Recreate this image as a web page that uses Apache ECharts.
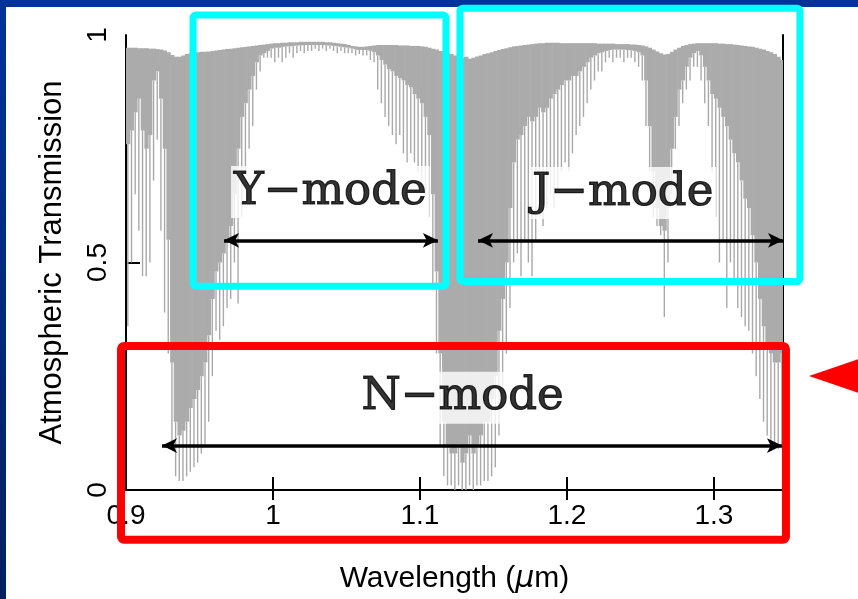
<!DOCTYPE html>
<html>
<head>
<meta charset="utf-8">
<script src="https://cdn.jsdelivr.net/npm/echarts@6/dist/echarts.min.js"></script>
<style>
html,body{margin:0;padding:0;width:858px;height:599px;overflow:hidden;background:linear-gradient(#003399,#00205e);}
#panel{position:absolute;left:6px;top:7px;right:0;bottom:0;background:#fff;}
#chart{position:absolute;left:0;top:0;width:858px;height:599px;}
</style>
</head>
<body>
<div id="panel"></div>
<div id="chart"></div>
<script>
// transmission spectrum, one bin every 0.0025 um from 0.9 um
var waveStart = 0.9, waveStep = 0.0025
// upper edge of the grey
var top_ = [
  0.972,0.972,0.972,0.971,0.971,0.971,0.970,0.970,0.969,0.968,
  0.966,0.962,0.956,0.952,0.952,0.955,0.958,0.960,0.962,0.962,
  0.963,0.963,0.964,0.965,0.966,0.967,0.968,0.969,0.970,0.971,
  0.972,0.973,0.974,0.975,0.976,0.977,0.978,0.979,0.980,0.981,
  0.982,0.982,0.983,0.983,0.984,0.984,0.984,0.985,0.985,0.985,
  0.985,0.985,0.985,0.985,0.984,0.984,0.983,0.982,0.981,0.980,
  0.978,0.976,0.975,0.974,0.974,0.975,0.976,0.977,0.978,0.978,
  0.978,0.978,0.978,0.978,0.977,0.977,0.977,0.976,0.976,0.976,
  0.975,0.974,0.972,0.970,0.968,0.965,0.962,0.960,0.958,0.955,
  0.952,0.950,0.952,0.948,0.950,0.953,0.955,0.958,0.960,0.962,
  0.965,0.967,0.969,0.971,0.973,0.975,0.976,0.977,0.978,0.979,
  0.980,0.981,0.982,0.982,0.983,0.983,0.983,0.983,0.982,0.982,
  0.982,0.982,0.982,0.982,0.982,0.982,0.982,0.982,0.981,0.981,
  0.981,0.981,0.981,0.980,0.980,0.980,0.980,0.979,0.979,0.978,
  0.977,0.975,0.972,0.968,0.964,0.960,0.957,0.958,0.963,0.968,
  0.972,0.976,0.978,0.980,0.981,0.982,0.982,0.982,0.982,0.982,
  0.982,0.981,0.981,0.980,0.980,0.979,0.978,0.977,0.976,0.975,
  0.974,0.972,0.970,0.968,0.965,0.962,0.958,0.952,0.945
]
// where the grey stops being solid
var dense = [
  0.76,0.79,0.83,0.86,0.79,0.75,0.78,0.90,0.92,0.86,
  0.75,0.55,0.28,0.15,0.12,0.13,0.15,0.18,0.20,0.22,
  0.25,0.28,0.34,0.42,0.48,0.50,0.52,0.55,0.58,0.65,
  0.75,0.82,0.85,0.88,0.91,0.94,0.955,0.96,0.965,0.97,
  0.972,0.972,0.974,0.975,0.975,0.976,0.977,0.977,0.978,0.978,
  0.978,0.978,0.978,0.978,0.977,0.977,0.976,0.975,0.974,0.973,
  0.972,0.970,0.968,0.967,0.967,0.967,0.965,0.962,0.955,0.945,
  0.935,0.925,0.92,0.91,0.905,0.90,0.89,0.885,0.87,0.86,
  0.85,0.82,0.78,0.65,0.48,0.30,0.15,0.10,0.08,0.08,
  0.10,0.06,0.08,0.12,0.08,0.10,0.12,0.15,0.15,0.20,
  0.25,0.35,0.42,0.50,0.62,0.72,0.77,0.78,0.80,0.82,
  0.81,0.82,0.84,0.83,0.84,0.86,0.87,0.88,0.89,0.90,
  0.90,0.91,0.91,0.92,0.93,0.94,0.95,0.955,0.96,0.962,
  0.965,0.967,0.968,0.968,0.968,0.968,0.967,0.966,0.965,0.962,
  0.955,0.90,0.80,0.70,0.62,0.58,0.57,0.62,0.75,0.82,
  0.88,0.90,0.93,0.95,0.96,0.965,0.955,0.93,0.90,0.87,
  0.86,0.84,0.82,0.80,0.77,0.74,0.72,0.68,0.64,0.62,
  0.56,0.50,0.42,0.36,0.32,0.30,0.28,0.28,0.30
]
// tip of the deepest line in the bin
var deep = [
  0.36,0.50,0.65,0.57,0.47,0.47,0.50,0.68,0.77,0.57,
  0.39,0.30,0.10,0.03,0.02,0.02,0.03,0.04,0.05,0.06,
  0.08,0.10,0.15,0.25,0.35,0.33,0.36,0.40,0.42,0.50,
  0.41,0.60,0.70,0.75,0.80,0.88,0.92,0.95,0.95,0.95,
  0.94,0.95,0.94,0.95,0.96,0.95,0.96,0.965,0.96,0.965,
  0.965,0.97,0.965,0.97,0.965,0.97,0.965,0.96,0.965,0.96,
  0.96,0.96,0.955,0.958,0.955,0.955,0.945,0.94,0.88,0.85,
  0.82,0.80,0.78,0.76,0.78,0.74,0.72,0.74,0.72,0.70,
  0.68,0.65,0.60,0.45,0.30,0.10,0.03,0.01,0.01,0.0,
  0.01,0.0,0.0,0.01,0.0,0.01,0.01,0.02,0.02,0.03,
  0.05,0.12,0.20,0.30,0.40,0.50,0.52,0.47,0.55,0.50,
  0.47,0.55,0.60,0.58,0.62,0.65,0.62,0.66,0.70,0.72,
  0.70,0.74,0.78,0.80,0.82,0.85,0.88,0.90,0.92,0.92,
  0.94,0.95,0.94,0.95,0.95,0.94,0.95,0.95,0.94,0.93,
  0.90,0.80,0.70,0.60,0.58,0.56,0.38,0.50,0.65,0.75,
  0.80,0.85,0.88,0.90,0.93,0.93,0.90,0.85,0.80,0.70,
  0.60,0.50,0.55,0.40,0.50,0.45,0.40,0.38,0.36,0.35,
  0.30,0.25,0.20,0.15,0.12,0.10,0.09,0.09,0.10
]

var xTicks = [0.9, 1, 1.1, 1.2, 1.3]
var yTicks = [0, 0.5, 1]

// mode labels and their ranges
var modeNames = ['Y\u2212mode', 'J\u2212mode', 'N\u2212mode']
var modeX = [1.039, 1.238, 1.129]
var modeY = [0.655, 0.653, 0.203]
var arrowFrom = [[0.9667, 0.5487], [1.1395, 0.5487], [0.9245, 0.0976]]
var arrowTo = [[1.1122, 0.5487], [1.347, 0.5487], [1.3463, 0.0976]]
// boxes round the modes: [x0, y0, x1, y1] in axis units
var cyanBoxes = [[0.9456, 1.0437, 1.1177, 0.4476], [1.1272, 1.0590, 1.3585, 0.4585]]
var redBoxes = [[0.8966, 0.3166, 1.3490, -0.1092]]

var spectrum = top_.map(function (t, i) {
  return [waveStart + i * waveStep, t, dense[i], deep[i]]
})

var chart = echarts.init(document.getElementById('chart'))
var font = 'Liberation Sans'

var option = {
  animation: false,
  grid: {left: 126, right: 75, top: 35, bottom: 106},
  xAxis: [{
    type: 'value', min: 0.9, max: 1.347,
    axisLine: {lineStyle: {color: '#000', width: 2}},
    axisTick: {inside: true, length: 13, lineStyle: {color: '#000', width: 2}, customValues: [1, 1.1, 1.2, 1.3]},
    axisLabel: {customValues: xTicks, color: '#000', fontFamily: font, fontSize: 28, margin: 12},
    splitLine: {show: false},
    name: 'Wavelength ({mu|\u03bc}m)', nameLocation: 'middle', nameGap: 74,
    nameTextStyle: {color: '#000', fontFamily: font, fontSize: 30,
      rich: {mu: {fontStyle: 'italic', fontFamily: 'DejaVu Sans', fontSize: 30, color: '#000'}}}
  }, {
    type: 'value', min: 0.9, max: 1.347, position: 'top',
    axisLine: {lineStyle: {color: '#000', width: 2}},
    axisTick: {inside: true, length: 10, lineStyle: {color: '#000', width: 2}, customValues: [1, 1.1, 1.2, 1.3]},
    axisLabel: {show: false},
    splitLine: {show: false}
  }],
  yAxis: [{
    type: 'value', min: 0, max: 1,
    axisLine: {show: true, lineStyle: {color: '#000', width: 2}},
    axisTick: {show: true, inside: true, length: 14, lineStyle: {color: '#000', width: 2}, customValues: [0.5]},
    axisLabel: {customValues: yTicks, rotate: 90, color: '#000', fontFamily: font, fontSize: 28, margin: 14},
    splitLine: {show: false},
    name: 'Atmospheric Transmission', nameLocation: 'middle', nameGap: 58,
    nameTextStyle: {color: '#000', fontFamily: font, fontSize: 31}
  }, {
    type: 'value', min: 0, max: 1, position: 'right',
    axisLine: {show: true, lineStyle: {color: '#000', width: 2}},
    axisTick: {show: false}, axisLabel: {show: false}, splitLine: {show: false}
  }],
  series: [{
    type: 'custom',
    clip: true,
    z: 1,
    data: spectrum,
    encode: {x: 0, y: [1, 2, 3]},
    renderItem: function (params, api) {
      var w0 = api.value(0)
      var pTop = api.coord([w0, api.value(1)])
      var pDense = api.coord([w0 + waveStep, api.value(2)])
      var pDeep = api.coord([w0 + waveStep / 2, api.value(3)])
      return {
        type: 'group',
        children: [{
          type: 'rect',
          shape: {x: pTop[0], y: pTop[1], width: pDense[0] - pTop[0] + 0.6, height: pDense[1] - pTop[1]},
          style: {fill: '#ababab'}
        }, {
          type: 'line',
          shape: {x1: pDeep[0], y1: pDense[1], x2: pDeep[0], y2: pDeep[1]},
          style: {stroke: '#a9a9a9', lineWidth: 1.4}
        }]
      }
    }
  }, {
    type: 'scatter',
    z: 5,
    symbolSize: 0,
    data: modeNames.map(function (n, i) { return {name: n, value: [modeX[i], modeY[i]]} }),
    label: {
      show: true, position: 'inside', formatter: '{b}',
      color: '#000', fontFamily: 'DejaVu Serif', fontSize: 45,
      textBorderColor: '#000', textBorderWidth: 1.2,
      backgroundColor: '#fff', padding: [1, 3], lineHeight: 50
    },
    markLine: {
      silent: true,
      symbol: ['arrow', 'arrow'],
      symbolSize: [11, 15],
      label: {show: false},
      lineStyle: {color: '#000', width: 3.5, type: 'solid'},
      data: arrowFrom.map(function (p, i) {
        return [{coord: p}, {coord: arrowTo[i]}]
      })
    }
  }]
}
chart.setOption(option)

function boxGraphic(b, color, w) {
  var p0 = chart.convertToPixel({gridIndex: 0}, [b[0], b[1]])
  var p1 = chart.convertToPixel({gridIndex: 0}, [b[2], b[3]])
  return {
    type: 'rect', z: 100,
    shape: {x: p0[0], y: p0[1], width: p1[0] - p0[0], height: p1[1] - p0[1], r: 3},
    style: {fill: 'none', stroke: color, lineWidth: w}
  }
}
var graphics = cyanBoxes.map(function (b) { return boxGraphic(b, '#00ffff', 7) })
  .concat(redBoxes.map(function (b) { return boxGraphic(b, '#ff0000', 8) }))
graphics.push({
  type: 'polygon', z: 100,
  shape: {points: [[809, 376], [870, 355], [870, 397]]},
  style: {fill: '#ff0000'}
})
chart.setOption({graphic: graphics})
</script>
</body>
</html>
